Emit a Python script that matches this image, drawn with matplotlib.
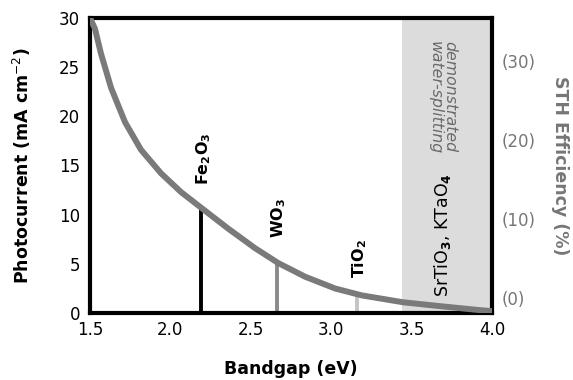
# -*- coding: utf-8 -*-
"""
Photocurrent / STH efficiency vs bandgap
"""

import matplotlib
matplotlib.use("Agg")
import matplotlib.pyplot as plt
import matplotlib as mpl

# ===== 1. Style =====
mpl.rcParams.update({
    "font.family": ["DejaVu Sans"],
    "font.size": 12,
    "mathtext.fontset": "dejavusans",
})

# ===== 2. Data =====
bandgap = [1.500, 1.531, 1.568, 1.631, 1.718, 1.817, 1.942, 2.066, 2.184,
           2.358, 2.526, 2.669, 2.837, 3.024, 3.190, 3.447, 3.680, 3.925, 4.000]
photocurrent = [30.0, 28.9, 26.4, 22.9, 19.4, 16.6, 14.2, 12.3, 10.8,
                8.6, 6.6, 5.1, 3.7, 2.5, 1.8, 1.1, 0.7, 0.3, 0.2]

materials = [r"$\mathbf{Fe_2O_3}$", r"$\mathbf{WO_3}$", r"$\mathbf{TiO_2}$"]
material_gap = [2.19, 2.66, 3.16]
material_j = [10.8, 5.1, 1.9]
material_colors = ["#000000", "#8a8a8a", "#c4c4c4"]

demo_range = (3.44, 4.0)

x_ticks = [1.5, 2.0, 2.5, 3.0, 3.5, 4.0]
x_ticklabels = ["1.5", "2.0", "2.5", "3.0", "3.5", "4.0"]
y_ticks = [0, 5, 10, 15, 20, 25, 30]
sth_ticks = [0, 10, 20, 30]
sth_ticklabels = ["(0)", "(10)", "(20)", "(30)"]

curve_color = "#7a7a7a"
sth_color = "#767676"

# ===== 3. Figure =====
fig = plt.figure(figsize=(5.73, 3.80), dpi=100)
ax = fig.add_axes([0.157, 0.176, 0.702, 0.777])

ax.axvspan(*demo_range, color="#dcdcdc", lw=0, zorder=0)

for g, j, c in zip(material_gap, material_j, material_colors):
    ax.plot([g, g], [0, j], color=c, lw=2.8, solid_capstyle="butt", zorder=2)

ax.plot(bandgap, photocurrent, color=curve_color, lw=4.3, zorder=3,
        solid_capstyle="butt", solid_joinstyle="round")

label_bottoms = [13.0, 7.6, 3.6]
for name, g, yb in zip(materials, material_gap, label_bottoms):
    ax.text(g + 0.015, yb, name, rotation=90, ha="center", va="bottom",
            fontsize=11.5)

ax.text(3.69, 27.6, "demonstrated\nwater-splitting", rotation=-90,
        ha="center", va="top", multialignment="left", fontsize=11.3,
        style="italic", color="#6a6a6a", linespacing=1.0)
ax.text(3.69, 1.6, r"SrTiO$_\mathbf{3}$, KTaO$_\mathbf{4}$", rotation=90,
        ha="center", va="bottom", fontsize=12.5)

ax.set_xlim(1.5, 4.0)
ax.set_ylim(0, 30)
ax.set_xticks(x_ticks)
ax.set_xticklabels(x_ticklabels)
ax.set_yticks(y_ticks)
ax.tick_params(length=0, labelsize=12)
ax.tick_params(axis="x", pad=6)
ax.tick_params(axis="y", pad=7)

for s in ax.spines.values():
    s.set_linewidth(3)

ax.set_xlabel("Bandgap (eV)", fontsize=12.5, fontweight="bold", labelpad=15)
ax.set_ylabel(r"Photocurrent (mA cm$^{-2}$)", fontsize=12.5,
              fontweight="bold", labelpad=19)

# right axis: STH efficiency
ax2 = ax.twinx()
ax2.set_ylim(-1.9, 35.4)
ax2.set_yticks(sth_ticks)
ax2.set_yticklabels(sth_ticklabels)
ax2.tick_params(length=0, labelsize=12, labelcolor=sth_color, pad=7)
for s in ax2.spines.values():
    s.set_visible(False)
ax2.set_ylabel("STH Efficiency (%)", fontsize=12.5, fontweight="bold",
               color=sth_color, rotation=270, labelpad=24)

fig.savefig("out.png", dpi=100)
